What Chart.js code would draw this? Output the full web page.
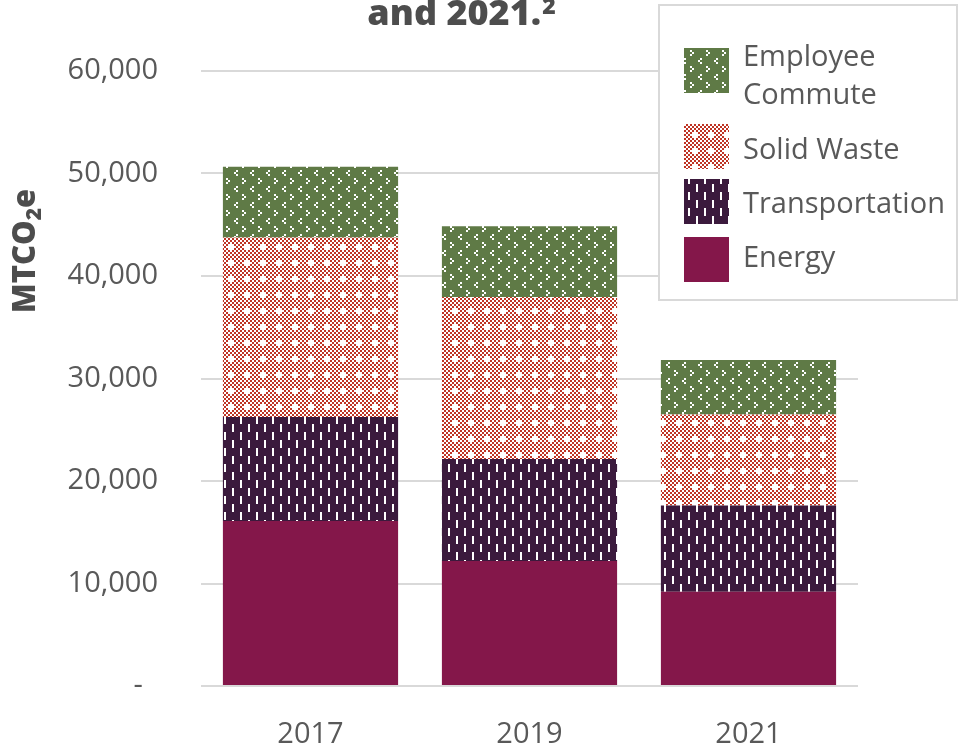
<!DOCTYPE html>
<html><head><meta charset="utf-8">
<script src="https://cdn.jsdelivr.net/npm/chart.js@4/dist/chart.umd.min.js"></script>
<style>html,body{margin:0;padding:0;background:#fff;}#wrap{width:968px;height:747px;position:relative;}</style>
</head><body><div id="wrap"><canvas id="c"></canvas></div>
<script>
const categories = ['2017', '2019', '2021'];
const energy = [16100, 12200, 9200];
const transportation = [10150, 9950, 8400];
const solidWaste = [17500, 15800, 8900];
const employeeCommute = [6900, 6900, 5300];
const seriesLabels = ['Energy', 'Transportation', 'Solid Waste', 'Employee Commute'];
const yMax = 60000;
const yStep = 10000;
const titleText = 'and 2021.';
const titleSup = '2';
const yTitleParts = ['MTCO', '2', 'e'];

const FONT = '"Open Sans", "Noto Sans", sans-serif';
const GRAY = '#595959';

function makePattern(w, h, bg, draw) {
  const c = document.createElement('canvas');
  c.width = w; c.height = h;
  const x = c.getContext('2d');
  x.fillStyle = bg; x.fillRect(0, 0, w, h);
  x.fillStyle = '#ffffff';
  draw(x);
  return x.createPattern(c, 'repeat');
}
const energyFill = '#84174a';
const transportFill = makePattern(16, 16, '#3b1a3d', x => {
  x.fillRect(0, 0, 2, 8); x.fillRect(8, 8, 2, 8);
});
const wasteFill = makePattern(16, 16, '#bf3425', x => {
  for (let i = 0; i < 8; i++) for (let j = 0; j < 8; j++) if ((i + j) % 2 === 0) x.fillRect(i * 2, j * 2, 2, 2);
  x.fillRect(4, 6, 6, 2); x.fillRect(6, 4, 2, 6);
});
const commuteFill = makePattern(16, 16, '#5f7a46', x => {
  x.fillRect(2, 2, 2, 2); x.fillRect(4, 4, 2, 2); x.fillRect(2, 6, 2, 2);
  x.fillRect(12, 10, 2, 2); x.fillRect(10, 12, 2, 2); x.fillRect(12, 14, 2, 2);
});
const fills = [energyFill, transportFill, wasteFill, commuteFill];
const values = [energy, transportation, solidWaste, employeeCommute];

const overlayPlugin = {
  id: 'overlay',
  afterDraw(chart) {
    const ctx = chart.ctx;
    ctx.save();
    // Title (second line visible)
    ctx.fillStyle = '#4d4d4d';
    const tBig = '800 36px ' + FONT, tSmall = '800 23px ' + FONT;
    ctx.textBaseline = 'alphabetic';
    ctx.textAlign = 'left';
    ctx.font = tBig; const tw = ctx.measureText(titleText).width;
    ctx.font = tSmall; const sw = ctx.measureText(titleSup).width;
    const tx = 461 - (tw + sw) / 2;
    ctx.font = tBig; ctx.fillText(titleText, tx, 25);
    ctx.font = tSmall; ctx.fillText(titleSup, tx + tw + 1, 14);

    // Y axis title
    ctx.save();
    ctx.translate(35, 251);
    ctx.rotate(-Math.PI / 2);
    ctx.fillStyle = '#4d4d4d';
    const big = '800 31px ' + FONT, small = '800 21px ' + FONT;
    ctx.font = big; const w0 = ctx.measureText(yTitleParts[0]).width;
    ctx.font = small; const w1 = ctx.measureText(yTitleParts[1]).width;
    ctx.font = big; const w2 = ctx.measureText(yTitleParts[2]).width;
    let px = -(w0 + w1 + w2) / 2;
    ctx.font = big; ctx.fillText(yTitleParts[0], px, 0); px += w0;
    ctx.font = small; ctx.fillText(yTitleParts[1], px, 6); px += w1;
    ctx.font = big; ctx.fillText(yTitleParts[2], px, 0);
    ctx.restore();

    // Legend
    ctx.fillStyle = '#ffffff';
    ctx.fillRect(659, 5, 298, 295);
    ctx.strokeStyle = '#d9d9d9';
    ctx.lineWidth = 2;
    ctx.strokeRect(659, 5, 298, 295);
    const swatchTops = [48, 124, 179, 237];
    const baselines = [[66, 104], [159], [213], [267]];
    ctx.font = '29px ' + FONT;
    const ds = chart.data.datasets.slice().reverse();
    ds.forEach((d, i) => {
      ctx.fillStyle = d.backgroundColor;
      ctx.fillRect(684, swatchTops[i], 45, 45);
      ctx.fillStyle = GRAY;
      let lines = [d.label];
      if (ctx.measureText(d.label).width > 210) lines = d.label.split(' ');
      lines.forEach((ln, k) => ctx.fillText(ln, 743, baselines[i][k] ?? baselines[i][0] + 38 * k));
    });
    ctx.restore();
  }
};

new Chart(document.getElementById('c'), {
  type: 'bar',
  data: {
    labels: categories,
    datasets: seriesLabels.map((l, i) => ({
      label: l, data: values[i], backgroundColor: fills[i], borderWidth: 0,
      barPercentage: 0.8, categoryPercentage: 1.0
    }))
  },
  options: {
    responsive: true, maintainAspectRatio: false, animation: false,
    layout: { padding: { top: 71, right: 110, left: 0, bottom: 0 } },
    plugins: { legend: { display: false }, tooltip: { enabled: false }, title: { display: false } },
    scales: {
      x: {
        stacked: true,
        grid: { display: false },
        border: { display: false },
        ticks: { color: GRAY, font: { family: FONT, size: 29 }, padding: 23 },
        afterFit: s => { s.height = 61; }
      },
      y: {
        stacked: true, min: 0, max: yMax,
        grid: { color: '#d9d9d9', lineWidth: 2, drawTicks: false },
        border: { display: false },
        ticks: {
          stepSize: yStep, color: GRAY, font: { family: FONT, size: 29 }, padding: 43,
          callback: v => v === 0 ? '-  ' : v.toLocaleString('en-US')
        },
        afterFit: s => { s.width = 201; }
      }
    }
  },
  plugins: [overlayPlugin]
});
</script></body></html>
